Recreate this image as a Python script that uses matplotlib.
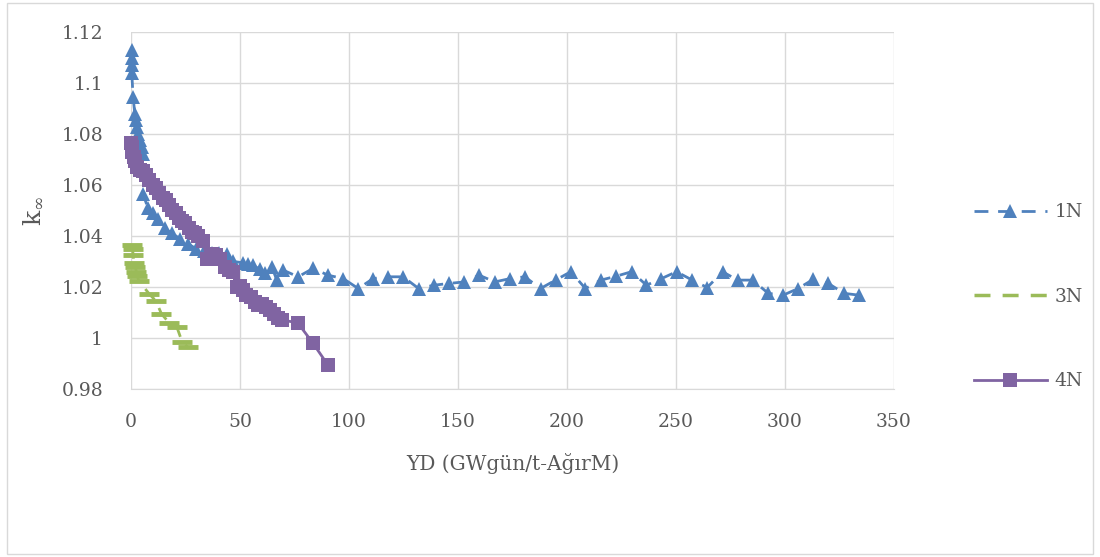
import numpy as np
import matplotlib.pyplot as plt
from matplotlib.patches import Rectangle
from matplotlib.lines import Line2D

# ---- data ----
x_1n = [0.3, 0.3, 0.3, 0.4, 1.0, 1.8, 2.2, 2.6, 3.2, 4.0, 4.9, 5.6, 5.5, 7.8, 10.0, 12.4,
        15.6, 18.8, 22.5, 26.0, 30.0, 33.5, 37.0, 40.5, 44.0, 47.0, 51.4, 53.7, 56.0,
        59.0, 61.5, 64.7, 67.0, 69.9, 76.7, 83.6, 90.5, 97.4, 104.3, 111.1, 118.0,
        124.9, 132.0, 139.0, 146.0, 152.9, 159.8, 167.0, 173.9, 180.7, 187.9, 194.8,
        201.8, 208.5, 215.6, 222.5, 229.7, 236.5, 243.4, 250.3, 257.5, 264.4, 271.4,
        278.3, 285.2, 292.4, 299.2, 306.1, 313.0, 319.9, 327.2, 334.0]
y_1n = [1.1128, 1.1096, 1.1070, 1.1040, 1.0945, 1.0880, 1.0854, 1.0828, 1.0800, 1.0775,
        1.0750, 1.0720, 1.0566, 1.0510, 1.0490, 1.0465, 1.0430, 1.0410, 1.0390, 1.0370,
        1.0350, 1.0340, 1.0335, 1.0335, 1.0330, 1.0300, 1.0295, 1.0290, 1.0285, 1.0270,
        1.0255, 1.0277, 1.0226, 1.0266, 1.0240, 1.0273, 1.0246, 1.0233, 1.0194, 1.0233,
        1.0240, 1.0240, 1.0194, 1.0207, 1.0214, 1.0220, 1.0246, 1.0220, 1.0233, 1.0240,
        1.0194, 1.0227, 1.0260, 1.0194, 1.0227, 1.0242, 1.0260, 1.0207, 1.0233, 1.0260,
        1.0227, 1.0198, 1.0260, 1.0227, 1.0227, 1.0175, 1.0168, 1.0194, 1.0230, 1.0214,
        1.0175, 1.0168]

x_3n = [0.5, 0.8, 1.0, 1.5, 2.0, 2.5, 3.0, 3.5, 8.5, 11.5, 14.0, 17.5, 21.0, 23.5, 26.0]
y_3n = [1.0365, 1.0350, 1.0325, 1.0295, 1.0280, 1.0260, 1.0245, 1.0225, 1.0172, 1.0145,
        1.0095, 1.0060, 1.0045, 0.9985, 0.9965]

x_4n = [0.0, 0.3, 0.7, 1.2, 2.0, 3.0, 4.0, 5.5, 7.0, 8.5, 10.0, 11.5, 13.0, 14.5, 16.0,
        17.5, 19.0, 20.5, 22.0, 23.5, 25.0, 26.5, 28.0, 29.5, 31.0, 33.0, 35.0, 37.0,
        39.0, 41.0, 43.0, 45.0, 47.0, 48.5, 50.0, 51.5, 53.0, 55.0, 57.0, 58.5, 60.0,
        62.0, 64.0, 65.5, 67.5, 69.5, 76.5, 83.5, 90.3]
y_4n = [1.0765, 1.0750, 1.0730, 1.0710, 1.0695, 1.0670, 1.0660, 1.0655, 1.0640, 1.0620,
        1.0600, 1.0590, 1.0570, 1.0550, 1.0540, 1.0520, 1.0500, 1.0490, 1.0470, 1.0460,
        1.0450, 1.0430, 1.0415, 1.0410, 1.0400, 1.0380, 1.0310, 1.0330, 1.0325, 1.0310,
        1.0280, 1.0265, 1.0260, 1.0200, 1.0205, 1.0190, 1.0170, 1.0160, 1.0140, 1.0128,
        1.0135, 1.0120, 1.0110, 1.0095, 1.0078, 1.0070, 1.0060, 0.9980, 0.9895]

x_ticks = [0, 50, 100, 150, 200, 250, 300, 350]
y_ticks = [0.98, 1.0, 1.02, 1.04, 1.06, 1.08, 1.1, 1.12]
y_tick_labels = ["0.98", "1", "1.02", "1.04", "1.06", "1.08", "1.1", "1.12"]

blue = "#4F81BD"
green = "#9BBB59"
purple = "#8064A2"
grey_txt = "#595959"
grid_c = "#D9D9D9"
dash = (0, (5, 3.5))

plt.rcParams["font.family"] = ["DejaVu Serif"]

fig = plt.figure(figsize=(11, 5.57), dpi=100)
fig.patches.append(Rectangle((0.006, 0.006), 0.988, 0.988, transform=fig.transFigure,
                             fill=False, edgecolor=grid_c, linewidth=1))
ax = fig.add_axes([0.119, 0.3016, 0.6936, 0.641])

ax.plot(x_1n, y_1n, color=blue, linestyle=dash, linewidth=2,
        marker="^", markersize=10, markeredgewidth=0, clip_on=False, zorder=3)
ax.plot(x_3n, y_3n, color=green, linestyle=dash, linewidth=2,
        marker="_", markersize=15, markeredgewidth=3.5, clip_on=False, zorder=2)
ax.plot(x_4n, y_4n, color=purple, linestyle="-", linewidth=2,
        marker="s", markersize=10.5, markeredgewidth=0, clip_on=False, zorder=4)

ax.set_xlim(0, 350)
ax.set_ylim(0.98, 1.12)
ax.set_xticks(x_ticks)
ax.set_yticks(y_ticks)
ax.set_yticklabels(y_tick_labels)
ax.tick_params(length=0, labelsize=13.5, labelcolor=grey_txt)
ax.tick_params(axis="y", pad=20)
ax.tick_params(axis="x", pad=17)
ax.grid(True, color=grid_c, linewidth=1)
ax.set_axisbelow(True)
for s in ["top", "right", "left"]:
    ax.spines[s].set_visible(False)
ax.spines["bottom"].set_color(grid_c)

ax.set_xlabel("YD (GWgün/t-AğırM)", fontsize=14.5, color=grey_txt, labelpad=16)
ax.set_ylabel(r"k$_{\mathregular{\infty}}$", fontsize=18, color=grey_txt, labelpad=12)

handles = [
    Line2D([], [], color=blue, linestyle=dash, linewidth=2, marker="^",
           markersize=10, markeredgewidth=0),
    Line2D([], [], color=green, linestyle=(0, (4.6, 3.5)), linewidth=2.5),
    Line2D([], [], color=purple, linestyle="-", linewidth=2, marker="s",
           markersize=10.5, markeredgewidth=0),
]
fig.legend(handles, ["1N", "3N", "4N"], loc="center left", bbox_to_anchor=(0.87, 0.467),
           frameon=False, fontsize=13.5, labelcolor=grey_txt, labelspacing=3.55,
           handlelength=3.9, handletextpad=0.4)

fig.savefig("out.png", dpi=100)
